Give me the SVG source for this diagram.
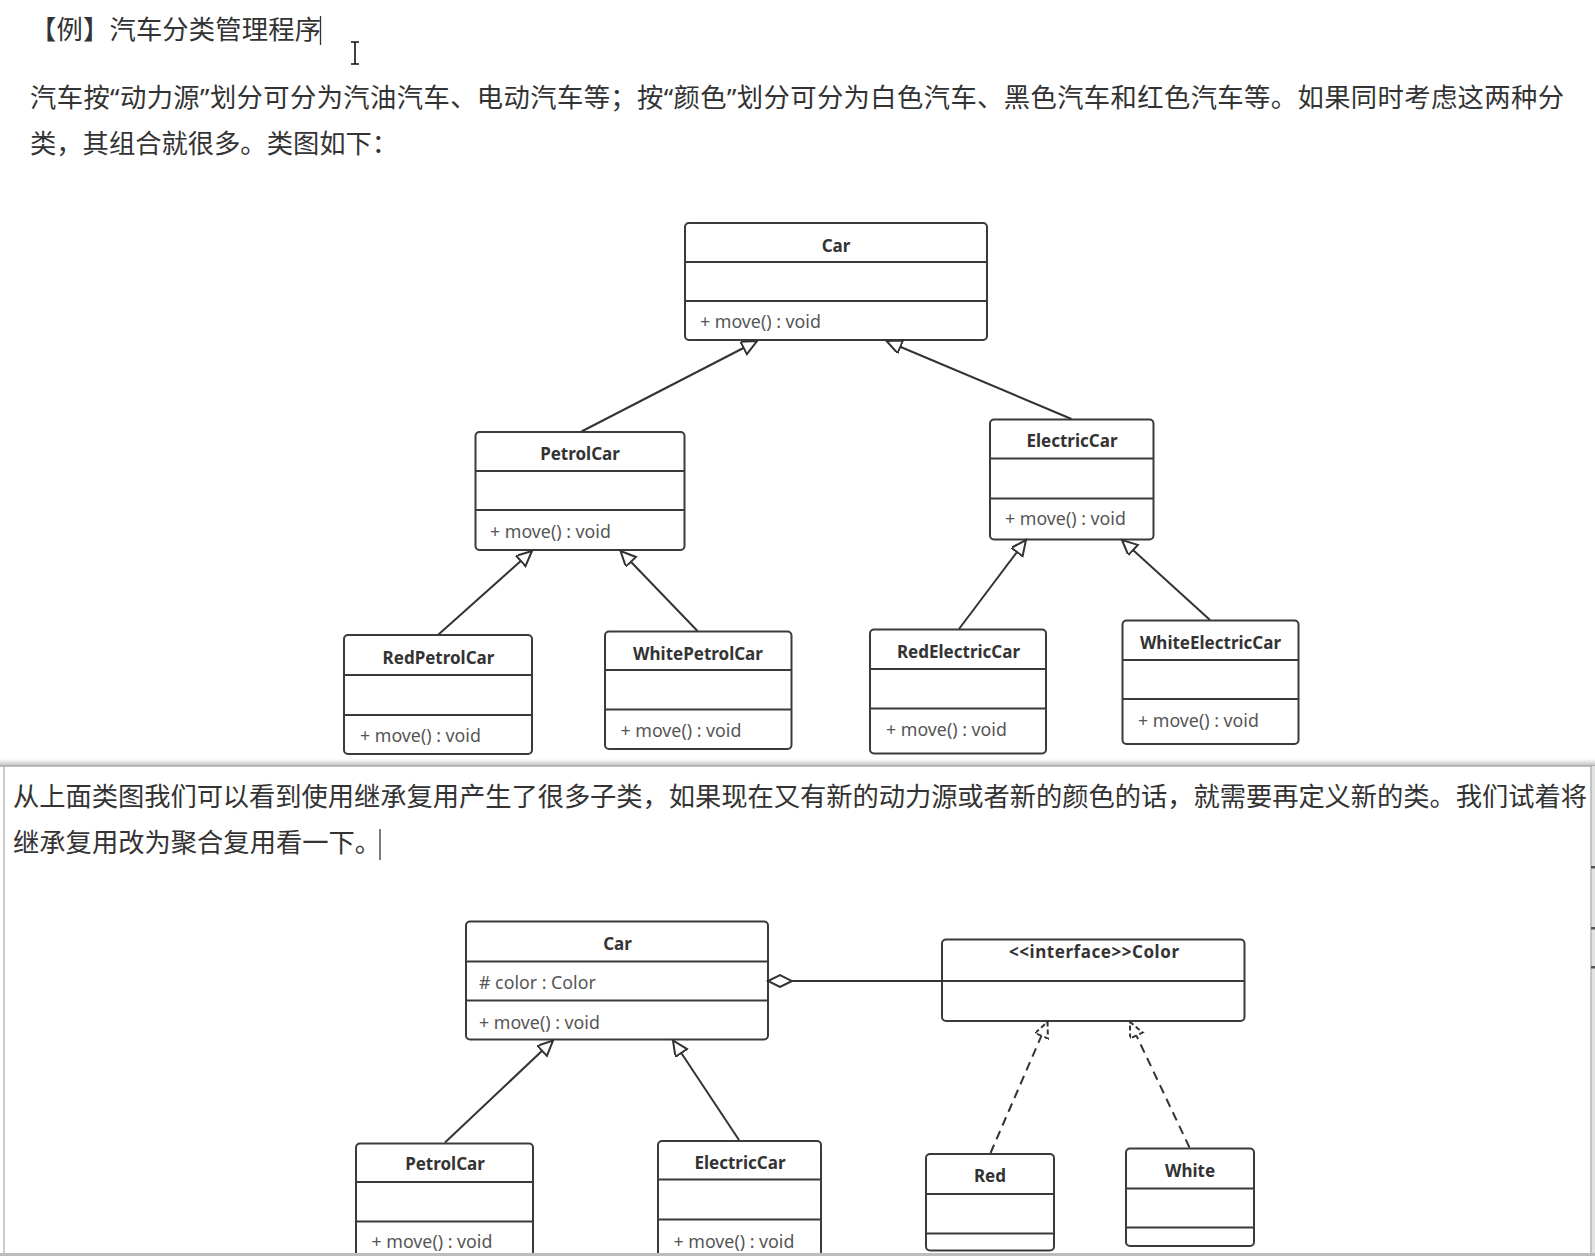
<svg xmlns="http://www.w3.org/2000/svg" width="1595" height="1256" viewBox="0 0 1595 1256">
<style>
.box{fill:#fff;stroke:#3a3a3a;stroke-width:2}
.dv{stroke:#3a3a3a;stroke-width:2}
.name{font-family:"Noto Sans","Liberation Sans",sans-serif;font-weight:bold;font-size:17px;fill:#333;text-anchor:middle}
.mem{font-family:"Noto Sans","Liberation Sans",sans-serif;font-size:17.8px;fill:#555}
.body{font-family:"Noto Sans CJK SC","Noto Sans",sans-serif;font-size:26.3px;fill:#333}
.q{font-family:"Noto Sans","Liberation Sans",sans-serif}
.edge{stroke:#333;stroke-width:2;fill:none}
.dash{stroke-dasharray:9 6}
</style>
<defs>
<marker id="tri" markerUnits="userSpaceOnUse" markerWidth="20" markerHeight="18" refX="16" refY="7" orient="auto">
<path d="M1,0 L16,7 L1,14 Z" fill="#fff" stroke="#333" stroke-width="2"/>
</marker>
<marker id="trid" markerUnits="userSpaceOnUse" markerWidth="20" markerHeight="18" refX="16" refY="7" orient="auto">
<path d="M1,0 L16,7 L1,14 Z" fill="#fff" stroke="#333" stroke-width="2" stroke-dasharray="5 3"/>
</marker>
<marker id="dia" markerUnits="userSpaceOnUse" markerWidth="28" markerHeight="16" refX="25" refY="7" orient="auto">
<path d="M1,7 L13,1 L25,7 L13,13 Z" fill="#fff" stroke="#333" stroke-width="2"/>
</marker>
<linearGradient id="shadowTop" x1="0" y1="0" x2="0" y2="1">
<stop offset="0" stop-color="#fff"/>
<stop offset="1" stop-color="#bdbdbd"/>
</linearGradient>
</defs>
<rect x="0" y="0" width="1595" height="1256" fill="#fff"/>

<!-- top text -->
<g id="text-top">
<text class="body" x="30" y="38.5" textLength="291" lengthAdjust="spacing">【例】汽车分类管理程序</text>
<text class="body" x="30" y="106.5" textLength="1534" lengthAdjust="spacing">汽车按<tspan class="q">“</tspan>动力源<tspan class="q">”</tspan>划分可分为汽油汽车、电动汽车等；按<tspan class="q">“</tspan>颜色<tspan class="q">”</tspan>划分可分为白色汽车、黑色汽车和红色汽车等。如果同时考虑这两种分</text>
<text class="body" x="30" y="152.5">类，其组合就很多。类图如下：</text>
<line x1="320.5" y1="16" x2="320.5" y2="45" stroke="#333" stroke-width="1.3"/>
<path d="M351,42 H359 M355,42 V64 M351,64 H359" stroke="#fff" stroke-width="4" fill="none"/>
<path d="M351,42 H359 M355,42 V64 M351,64 H359" stroke="#111" stroke-width="1.6" fill="none"/>
</g>

<!-- top diagram nodes -->
<g id="car1">
<rect class="box" x="685" y="223" width="302" height="117" rx="4"/>
<line class="dv" x1="685" y1="262" x2="987" y2="262"/>
<line class="dv" x1="685" y1="301" x2="987" y2="301"/>
<text class="name" x="836" y="252">Car</text>
<text class="mem" x="700" y="328">+ move() : void</text>
</g>
<g id="petrolcar1">
<rect class="box" x="475.5" y="432" width="209" height="118" rx="4"/>
<line class="dv" x1="475.5" y1="471" x2="684.5" y2="471"/>
<line class="dv" x1="475.5" y1="510" x2="684.5" y2="510"/>
<text class="name" x="580" y="459.5">PetrolCar</text>
<text class="mem" x="490" y="537.5">+ move() : void</text>
</g>
<g id="electriccar1">
<rect class="box" x="990" y="419.5" width="163.5" height="120" rx="4"/>
<line class="dv" x1="990" y1="458.5" x2="1153.5" y2="458.5"/>
<line class="dv" x1="990" y1="498.5" x2="1153.5" y2="498.5"/>
<text class="name" x="1072" y="446.5">ElectricCar</text>
<text class="mem" x="1005" y="525">+ move() : void</text>
</g>
<g id="redpetrolcar">
<rect class="box" x="344" y="635" width="188" height="119" rx="4"/>
<line class="dv" x1="344" y1="675" x2="532" y2="675"/>
<line class="dv" x1="344" y1="715" x2="532" y2="715"/>
<text class="name" x="438.5" y="664">RedPetrolCar</text>
<text class="mem" x="360" y="742">+ move() : void</text>
</g>
<g id="whitepetrolcar">
<rect class="box" x="605" y="631.5" width="186.5" height="117.5" rx="4"/>
<line class="dv" x1="605" y1="670" x2="791.5" y2="670"/>
<line class="dv" x1="605" y1="709.5" x2="791.5" y2="709.5"/>
<text class="name" x="698" y="659.5">WhitePetrolCar</text>
<text class="mem" x="620.5" y="737">+ move() : void</text>
</g>
<g id="redelectriccar">
<rect class="box" x="870" y="629.5" width="176" height="124" rx="4"/>
<line class="dv" x1="870" y1="669" x2="1046" y2="669"/>
<line class="dv" x1="870" y1="708.5" x2="1046" y2="708.5"/>
<text class="name" x="958.5" y="657.5">RedElectricCar</text>
<text class="mem" x="886" y="736">+ move() : void</text>
</g>
<g id="whiteelectriccar">
<rect class="box" x="1122.5" y="620.5" width="176" height="123.5" rx="4"/>
<line class="dv" x1="1122.5" y1="660" x2="1298.5" y2="660"/>
<line class="dv" x1="1122.5" y1="699" x2="1298.5" y2="699"/>
<text class="name" x="1210.5" y="648.5">WhiteElectricCar</text>
<text class="mem" x="1138" y="727">+ move() : void</text>
</g>

<g id="connectors-top">
<line class="edge" x1="581.5" y1="431.5" x2="757" y2="341" marker-end="url(#tri)"/>
<line class="edge" x1="1071.5" y1="419" x2="886.5" y2="341" marker-end="url(#tri)"/>
<line class="edge" x1="438.5" y1="634.5" x2="532" y2="551" marker-end="url(#tri)"/>
<line class="edge" x1="697.5" y1="631" x2="620.5" y2="551" marker-end="url(#tri)"/>
<line class="edge" x1="959" y1="629" x2="1026" y2="540" marker-end="url(#tri)"/>
<line class="edge" x1="1210" y1="620" x2="1122" y2="540" marker-end="url(#tri)"/>
</g>

<!-- lower panel -->
<g id="panel">
<rect x="0" y="759" width="1595" height="7" fill="url(#shadowTop)"/>
<rect x="4" y="766" width="1587" height="490" fill="#fff"/>
<line x1="0" y1="766" x2="1595" y2="766" stroke="#a8a8a8" stroke-width="1.5"/>
<line x1="4" y1="766" x2="4" y2="1256" stroke="#bbb" stroke-width="1.5"/>
<rect x="1591" y="766" width="4" height="490" fill="#e2e2e2"/>
<line x1="1591" y1="766" x2="1591" y2="1256" stroke="#b5b5b5" stroke-width="1.5"/>
<rect x="1591" y="866" width="4" height="2.5" fill="#555"/>
<rect x="1591" y="927" width="4" height="2.5" fill="#555"/>
<rect x="1591" y="966" width="4" height="2.5" fill="#555"/>
</g>

<g id="text-bottom">
<text class="body" x="13" y="805.5" textLength="1574" lengthAdjust="spacing">从上面类图我们可以看到使用继承复用产生了很多子类，如果现在又有新的动力源或者新的颜色的话，就需要再定义新的类。我们试着将</text>
<text class="body" x="13" y="852">继承复用改为聚合复用看一下。</text>
<line x1="380" y1="829" x2="380" y2="860" stroke="#333" stroke-width="1.3"/>
</g>

<g id="car2">
<rect class="box" x="466" y="921.5" width="302" height="118" rx="4"/>
<line class="dv" x1="466" y1="961.5" x2="768" y2="961.5"/>
<line class="dv" x1="466" y1="1000.5" x2="768" y2="1000.5"/>
<text class="name" x="617.5" y="949.5">Car</text>
<text class="mem" x="479" y="988.5"># color : Color</text>
<text class="mem" x="479" y="1028.5">+ move() : void</text>
</g>
<g id="color">
<rect class="box" x="942" y="939.5" width="302.5" height="81.5" rx="4"/>
<line class="dv" x1="942" y1="981" x2="1244.5" y2="981"/>
<text class="name" x="1094" y="957.5" textLength="170" lengthAdjust="spacing">&lt;&lt;interface&gt;&gt;Color</text>
</g>
<g id="petrolcar2">
<rect class="box" x="356" y="1143.5" width="177" height="130" rx="4"/>
<line class="dv" x1="356" y1="1182" x2="533" y2="1182"/>
<line class="dv" x1="356" y1="1221.5" x2="533" y2="1221.5"/>
<text class="name" x="445" y="1170">PetrolCar</text>
<text class="mem" x="371.5" y="1248">+ move() : void</text>
</g>
<g id="electriccar2">
<rect class="box" x="658" y="1141" width="163" height="130" rx="4"/>
<line class="dv" x1="658" y1="1179.5" x2="821" y2="1179.5"/>
<line class="dv" x1="658" y1="1219.5" x2="821" y2="1219.5"/>
<text class="name" x="740" y="1169">ElectricCar</text>
<text class="mem" x="673.5" y="1247.5">+ move() : void</text>
</g>
<g id="red">
<rect class="box" x="926" y="1154" width="128" height="96.5" rx="4"/>
<line class="dv" x1="926" y1="1194" x2="1054" y2="1194"/>
<line class="dv" x1="926" y1="1233.5" x2="1054" y2="1233.5"/>
<text class="name" x="990" y="1182">Red</text>
</g>
<g id="white">
<rect class="box" x="1126" y="1148.5" width="128" height="97.5" rx="4"/>
<line class="dv" x1="1126" y1="1188.5" x2="1254" y2="1188.5"/>
<line class="dv" x1="1126" y1="1227.5" x2="1254" y2="1227.5"/>
<text class="name" x="1190" y="1177">White</text>
</g>

<g id="connectors-bottom">
<line class="edge" x1="942" y1="981" x2="768" y2="981" marker-end="url(#dia)"/>
<line class="edge" x1="445" y1="1142.5" x2="553" y2="1040.5" marker-end="url(#tri)"/>
<line class="edge" x1="739" y1="1140" x2="673" y2="1040.5" marker-end="url(#tri)"/>
<line class="edge dash" x1="990.5" y1="1153" x2="1047.5" y2="1022" marker-end="url(#trid)"/>
<line class="edge dash" x1="1189.5" y1="1147.5" x2="1130" y2="1022" marker-end="url(#trid)"/>
</g>

<g id="bottom-bar">
<rect x="0" y="1253" width="1595" height="3" fill="#bcbcbc"/>
</g>
</svg>
